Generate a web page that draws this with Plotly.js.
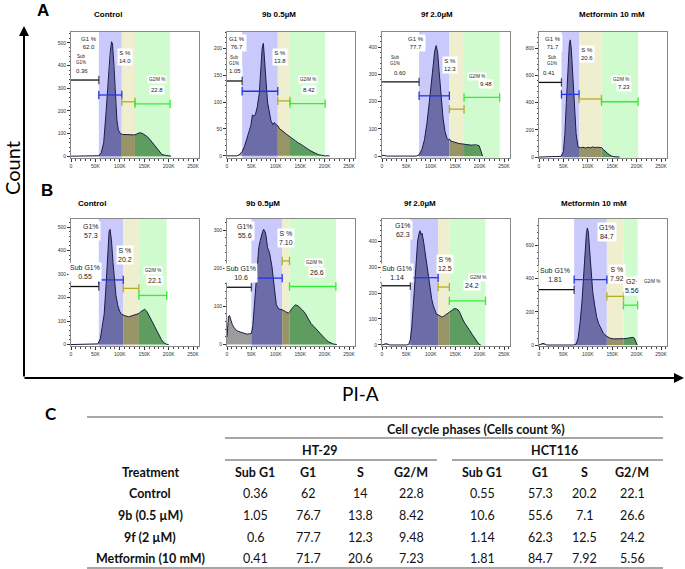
<!DOCTYPE html>
<html><head><meta charset="utf-8">
<script src="https://cdn.plot.ly/plotly-3.0.1.min.js"></script>
<style>html,body{margin:0;padding:0;background:#fff}#chart{width:685px;height:569px}</style>
</head><body><div id="chart"></div>
<script>
// ================= DATA =================
const panelTitles = ['Control','9b 0.5µM','9f 2.0µM','Metformin 10 mM','Control','9b 0.5µM','9f 2.0µM','Metformin 10 mM'];

// PI-A (in thousands) and cell counts
// Row A: HT-29
const piA_A1 = [0,50,57,62,67,72,76,80,83,85,88,91,94,97,101,105,110,115,120,125,130,135,140,145,150,155,160,165,170,175,180,186,192,198,205];
const cnt_A1 = [0,0,2,15,60,200,330,450,505,495,400,260,160,115,100,96,95,94,96,95,94,98,103,102,96,88,78,65,52,38,22,8,4,2,0];
const piA_A2 = [0,20,25,31,36,40,45,49,52,55,58,62,66,69,72,74.5,77,80,83,86,90,94,97,100,104,108,112,117,122,128,134,140,146,152,158,164,170,176,182,188,194,200,210];
const cnt_A2 = [0,0,2,8,18,30,42,57,76,74,76,91,115,150,200,209,180,130,100,85,65,58,62,58,56,50,48,44,40,36,31,27,24,21,17,13,10,7,4,2,1,0,0];
const piA_A3 = [0,3,6,10,70,76,82,87,92,97,101,105,108,111,114,117,121,125,129,133,136,138,141,146,152,158,163,168,175,182,188,194,199,202,204,206];
const cnt_A3 = [3,3,2,0,0,5,25,60,120,200,270,340,385,405,380,310,220,140,90,65,60,63,55,52,48,46,45,43,42,40,41,41,38,20,5,0];
const piA_A4 = [0,40,45,50,53,56,59,62,64,66,68,70,73,76,80,85,90,95,100,105,110,115,120,125,128,132,136,140,145,150,155,165];
const cnt_A4 = [0,0,5,40,167,400,659,820,860,800,680,560,330,170,75,68,72,66,72,68,74,70,72,70,69,55,40,28,15,5,2,0];
// Row B: HCT116
const piA_B1 = [0,50,55,60,64,68,72,75,78,80,83,86,89,92,96,100,104,107,112,118,124,130,135,139,143,147,151,155,159,163,167,171,175,180,185,190,195,200];
const cnt_B1 = [0,0,3,25,70,130,260,380,480,490,440,350,270,210,165,140,128,125,122,118,122,125,128,132,140,145,150,142,128,112,95,78,60,40,22,8,2,0];
const piA_B2 = [0,1,3,5,8,11,14,17,20,24,28,34,41,46,50,53,55,58,60,63,65,68,70,73,75,78,80,83,87,92,97,101,106,113,120,126,130,133,137,140,144,147,151,154,160,167,172,178,183,188,193,198,203,208,213,218,225];
const cnt_B2 = [20,50,72,76,62,52,45,40,36,34,32,30,27,28,29,50,86,140,175,225,254,272,285,296,302,296,285,254,241,205,148,104,93,91,86,82,88,95,100,104,102,100,94,91,82,64,55,47,40,32,25,18,12,7,3,1,0];
const piA_B3 = [0,4,8,12,16,50,55,58,61,64,67,70,73,76,78,80,82,85,88,91,95,98,102,105,108,111,115,119,123,128,133,138,143,148,152,156,159,163,167,171,175,180,185,190,194,198,202];
const cnt_B3 = [0,3,5,3,0,0,3,20,70,150,250,340,400,430,440,425,430,400,360,322,260,217,175,152,135,120,116,110,107,113,118,126,133,140,139,135,126,108,92,80,70,55,40,28,15,4,0];
const piA_B4 = [0,4,8,12,16,70,76,80,84,88,91,94,97,99,101,104,107,110,114,118,122,127,132,139,145,152,160,167,173,180,186,192,195,198,201];
const cnt_B4 = [0,6,10,6,0,0,5,40,130,260,420,560,670,705,680,560,420,320,240,170,130,95,70,52,42,37,36,37,38,40,43,46,42,25,0];

// gate boundaries (K): [G1 start, S start, G2/M start, G2/M end]
const gates_A1 = [57,104,131,203], gateLv_A1 = [336,270,240,231];
const gates_A2 = [31,104,129,201], gateLv_A2 = [139,120,102,97];
const gates_A3 = [76,138,168,241], gateLv_A3 = [272,221,172,215];
const gates_A4 = [46,82,128,203],  gateLv_A4 = [548,460,426,406];
const gates_B1 = [57,107,139,196], gateLv_B1 = [247,275,239,209];
const gates_B2 = [50,113,128,223], gateLv_B2 = [150,174,219,152];
const gates_B3 = [58,115,138,212], gateLv_B3 = [228,259,223,170];
const gates_B4 = [72,139,173,202], gateLv_B4 = [333,394,293,240];

// gate percentages as printed on the histograms
const lblSub = ['0.36','1.05','0.60','0.41','0.55','10.6','1.14','1.81'];
const lblG1  = ['62.0','76.7','77.7','71.7','57.3','55.6','62.3','84.7'];
const lblS   = ['14.0','13.8','12.3','20.6','20.2','7.10','12.5','7.92'];
const lblG2  = ['22.8','8.42','9.48','7.23','22.1','26.6','24.2','5.56'];

const xTickVals = [0,50,100,150,200,250];
const xTickText = ['0','50K','100K','150K','200K','250K'];

// table (C)
const treatments = ['Control','9b (0.5 µM)','9f (2 µM)','Metformin (10 mM)'];
const phaseCols = ['Sub G1','G1','S','G2/M'];
const ht29_SubG1 = ['0.36','1.05','0.6','0.41'];
const ht29_G1    = ['62','76.7','77.7','71.7'];
const ht29_S     = ['14','13.8','12.3','20.6'];
const ht29_G2M   = ['22.8','8.42','9.48','7.23'];
const hct_SubG1  = ['0.55','10.6','1.14','1.81'];
const hct_G1     = ['57.3','55.6','62.3','84.7'];
const hct_S      = ['20.2','7.1','12.5','7.92'];
const hct_G2M    = ['22.1','26.6','24.2','5.56'];

// ================= LAYOUT / STYLE =================
const W = 685, H = 569;
const PX = v => v / W, PY = v => 1 - v / H;
const colX = [[71,199],[227,355],[382,510],[539,667]];
const rowY = [[32,158],[219,346]];
const FONT = 'Liberation Sans, Arial, sans-serif';
const TFONT = 'Lato, Calibri, sans-serif';

const panels = [
 {x:piA_A1,y:cnt_A1,g:gates_A1,lv:gateLv_A1,yr:[-8,548],dt:100,
  pos:{g1:[36,500],sub:[20,425],subv:[22,376],s:[111,438],g2t:[176,340],g2v:[176,292]}},
 {x:piA_A2,y:cnt_A2,g:gates_A2,lv:gateLv_A2,yr:[-4,230],dt:50,
  pos:{g1:[20,209],sub:[14,178],subv:[16,157],s:[109,183],g2t:[166,141],g2v:[168,122]}},
 {x:piA_A3,y:cnt_A3,g:gates_A3,lv:gateLv_A3,yr:[-7,455],dt:100,
  pos:{g1:[70,414],sub:[26,350],subv:[36,303],s:[140,335],g2t:[195,293],g2v:[212,266]}},
 {x:piA_A4,y:cnt_A4,g:gates_A4,lv:gateLv_A4,yr:[-7,918],dt:200,
  pos:{g1:[29,834],sub:[26,706],subv:[20,615],s:[98,755],g2t:[167,568],g2v:[174,511]}},
 {x:piA_B1,y:cnt_B1,g:gates_B1,lv:gateLv_B1,yr:[-6,534],dt:100,
  pos:{g1:[40,484],sub:[29,308],s:[111,381],g2t:[167,315],g2v:[172,273]}},
 {x:piA_B2,y:cnt_B2,g:gates_B2,lv:gateLv_B2,yr:[-4,329],dt:100,
  pos:{g1:[36,298],sub:[29,188],s:[120,278],g2t:[179,216],g2v:[185,190]}},
 {x:piA_B3,y:cnt_B3,g:gates_B3,lv:gateLv_B3,yr:[-4,485],dt:100,
  pos:{g1:[42,441],sub:[30,279],s:[128,311],g2t:[197,259],g2v:[185,228]}},
 {x:piA_B4,y:cnt_B4,g:gates_B4,lv:gateLv_B4,yr:[-6,759],dt:200,
  pos:{g1:[139,681],sub:[33,420],s:[159,430],g2t:[231,383],g2v:[190,353],g2prefix:'G2·'}}
];
const titleX = [108,279,437,612,92,263,420,594];
const titleY = [14,203];

const bandCol = ['#c9c9fb','#efeecf','#cffbcf'];
const fillCol = ['#9c9c9c','#6c6ca8','#999368','#5f9c5f','#9c9c9c'];
const gateCol = ['#111111','#2233ee','#b5ad22','#33ee33'];
const XMAX = 262.144;

function interp(xs, ys, x){
  for(let i=0;i<xs.length-1;i++){
    if(x>=xs[i] && x<=xs[i+1]){const t=(x-xs[i])/(xs[i+1]-xs[i]); return ys[i]+t*(ys[i+1]-ys[i]);}
  }
  return 0;
}
function segment(xs, ys, a, b){
  const ox=[a], oy=[interp(xs,ys,a)];
  for(let i=0;i<xs.length;i++) if(xs[i]>a && xs[i]<b){ox.push(xs[i]);oy.push(ys[i]);}
  ox.push(b); oy.push(interp(xs,ys,b));
  return [ox,oy];
}

const data = [], shapes = [], annotations = [];
const layout = {
  width:W, height:H, margin:{l:0,r:0,t:0,b:0}, showlegend:false,
  paper_bgcolor:'#fff', plot_bgcolor:'#fff', hovermode:false,
  font:{family:FONT,color:'#000'}
};

panels.forEach((p,i)=>{
  const n = i+1, xa = 'x'+(n===1?'':n), ya = 'y'+(n===1?'':n);
  const col = colX[i%4], row = rowY[Math.floor(i/4)];
  const isB = i>=4;
  layout['xaxis'+(n===1?'':n)] = {
    domain:[PX(col[0]),PX(col[1])], range:[0,XMAX], anchor:ya,
    tickvals:xTickVals, ticktext:xTickText, ticks:'outside', ticklen:3, tickwidth:1, tickcolor:'#333',
    tickfont:{size:5,family:FONT,color:'#333'},
    showline:true, mirror:true, linecolor:'#888', linewidth:1, showgrid:false, zeroline:false,
    minor:{ticks:'outside', ticklen:1.5, dtick:10, tickcolor:'#444', showgrid:false}
  };
  layout['yaxis'+(n===1?'':n)] = {
    domain:[PY(row[1]),PY(row[0])], range:p.yr, anchor:xa, dtick:p.dt, tick0:0,
    ticks:'outside', ticklen:3, tickwidth:1, tickcolor:'#333',
    tickfont:{size:5,family:FONT,color:'#333'},
    showline:true, mirror:true, linecolor:'#888', linewidth:1, showgrid:false, zeroline:false,
    minor:{ticks:'outside', ticklen:1.5, dtick:p.dt/5, tickcolor:'#444', showgrid:false}
  };
  // gate bands
  for(let k=0;k<3;k++){
    shapes.push({type:'rect', xref:xa, yref:ya+' domain', x0:p.g[k], x1:p.g[k+1], y0:0, y1:1,
      fillcolor:bandCol[k], line:{width:0}, layer:'below'});
  }
  // filled histogram split by gate regions
  const bounds = [0,p.g[0],p.g[1],p.g[2],p.g[3],XMAX];
  for(let k=0;k<5;k++){
    const [sx,sy] = segment(p.x,p.y,bounds[k],bounds[k+1]);
    data.push({type:'scatter', x:sx, y:sy, xaxis:xa, yaxis:ya, mode:'lines', fill:'tozeroy',
      fillcolor:fillCol[k], line:{width:0, color:fillCol[k]}, hoverinfo:'skip'});
  }
  data.push({type:'scatter', x:p.x, y:p.y, xaxis:xa, yaxis:ya, mode:'lines',
    line:{color:'#1c1c45', width:1}, hoverinfo:'skip'});
  // gate markers
  const gx = [[0,p.g[0]],[p.g[0],p.g[1]],[p.g[1],p.g[2]],[p.g[2],p.g[3]]];
  gx.forEach((seg,k)=>{
    data.push({type:'scatter', x:seg, y:[p.lv[k],p.lv[k]], xaxis:xa, yaxis:ya, mode:'lines+markers',
      line:{color:gateCol[k], width:1.3},
      marker:{symbol:'line-ns', size:k===0?[0,6]:6, line:{width:1.3,color:gateCol[k]}, color:gateCol[k]},
      hoverinfo:'skip'});
  });
  // labels
  const lab = (pos, text, size) => annotations.push({xref:xa, yref:ya, x:pos[0], y:pos[1], text:text,
    showarrow:false, bgcolor:'#fff', borderpad:1, xanchor:'center', yanchor:'middle',
    font:{size:size, family:FONT, color:'#222'}});
  const q = p.pos;
  if(!isB){
    lab(q.g1, 'G1 %<br>'+lblG1[i], 6);
    lab(q.sub, 'Sub<br>G1%', 4.5);
    lab(q.subv, lblSub[i], 6);
    lab(q.s, 'S %<br>'+lblS[i], 6);
    lab(q.g2t, 'G2/M %', 4.5);
    lab(q.g2v, lblG2[i], 6);
  } else {
    lab(q.g1, 'G1%<br>'+lblG1[i], 7);
    lab(q.sub, 'Sub G1%<br>'+lblSub[i], 7);
    lab(q.s, 'S %<br>'+lblS[i], 7);
    lab(q.g2t, 'G2/M %', 4.5);
    lab(q.g2v, (q.g2prefix? q.g2prefix+'<br>' : '')+lblG2[i], 7);
  }
  // title
  annotations.push({xref:'paper', yref:'paper', x:PX(titleX[i]), y:PY(titleY[isB?1:0]), text:'<b>'+panelTitles[i]+'</b>',
    showarrow:false, font:{size:8, family:FONT, color:'#000'}, xanchor:'center', yanchor:'middle'});
});

const txt = (x,y,text,size,family,extra) => annotations.push(Object.assign({xref:'paper',yref:'paper',
  x:PX(x),y:PY(y),text:text,showarrow:false,xanchor:'center',yanchor:'middle',
  font:{size:size,family:family,color:'#000'}}, extra||{}));

// panel letters
txt(43,11,'<b>A</b>',17,FONT);
txt(47,190,'<b>B</b>',17,FONT);
txt(51,413,'<b>C</b>',17,TFONT);

// big axes arrows
annotations.push({xref:'paper',yref:'paper',x:PX(24),y:PY(26),ax:0,ay:352,text:'',
  showarrow:true,arrowhead:2,arrowsize:1,arrowwidth:2,arrowcolor:'#000'});
annotations.push({xref:'paper',yref:'paper',x:PX(684),y:PY(378),ax:-661,ay:0,text:'',
  showarrow:true,arrowhead:2,arrowsize:1,arrowwidth:2,arrowcolor:'#000'});
txt(12,168,'Count',20,TFONT,{textangle:-90});
txt(361,393,'PI-A',19,TFONT);

// table
const rule = (x0,x1,y,w) => shapes.push({type:'line',xref:'paper',yref:'paper',x0:PX(x0),x1:PX(x1),y0:PY(y),y1:PY(y),
  line:{color:'#8a8a8a',width:w||1.3}});
rule(87,663,417,1.5); rule(225,663,438); rule(225,437,460); rule(452,663,460); rule(87,663,568,1.5);
const tcell = (x,y,text,bold,size) => annotations.push({xref:'paper',yref:'paper',x:PX(x),y:PY(y),
  text:bold?'<b>'+text+'</b>':text, showarrow:false, xanchor:'center', yanchor:'middle',
  font:{size:size||12.5,family:TFONT,color:'#111'}});
tcell(476,429,'Cell cycle phases (Cells count %)',true);
tcell(320,450,'HT-29',true);
tcell(554,450,'HCT116',true);
tcell(150,472,'Treatment',true);
const colCx = [255,308,360,411,482,540,584,632];
phaseCols.concat(phaseCols).forEach((c,k)=>tcell(colCx[k],472,c,true));
const rowCy = [493,515,537,558];
const tcols = [ht29_SubG1,ht29_G1,ht29_S,ht29_G2M,hct_SubG1,hct_G1,hct_S,hct_G2M];
treatments.forEach((t,r)=>{
  tcell(150,rowCy[r],t,true);
  tcols.forEach((arr,k)=>tcell(colCx[k],rowCy[r],arr[r],false));
});

layout.shapes = shapes;
layout.annotations = annotations;
Plotly.newPlot('chart', data, layout, {staticPlot:true, displayModeBar:false});
</script>
</body></html>
